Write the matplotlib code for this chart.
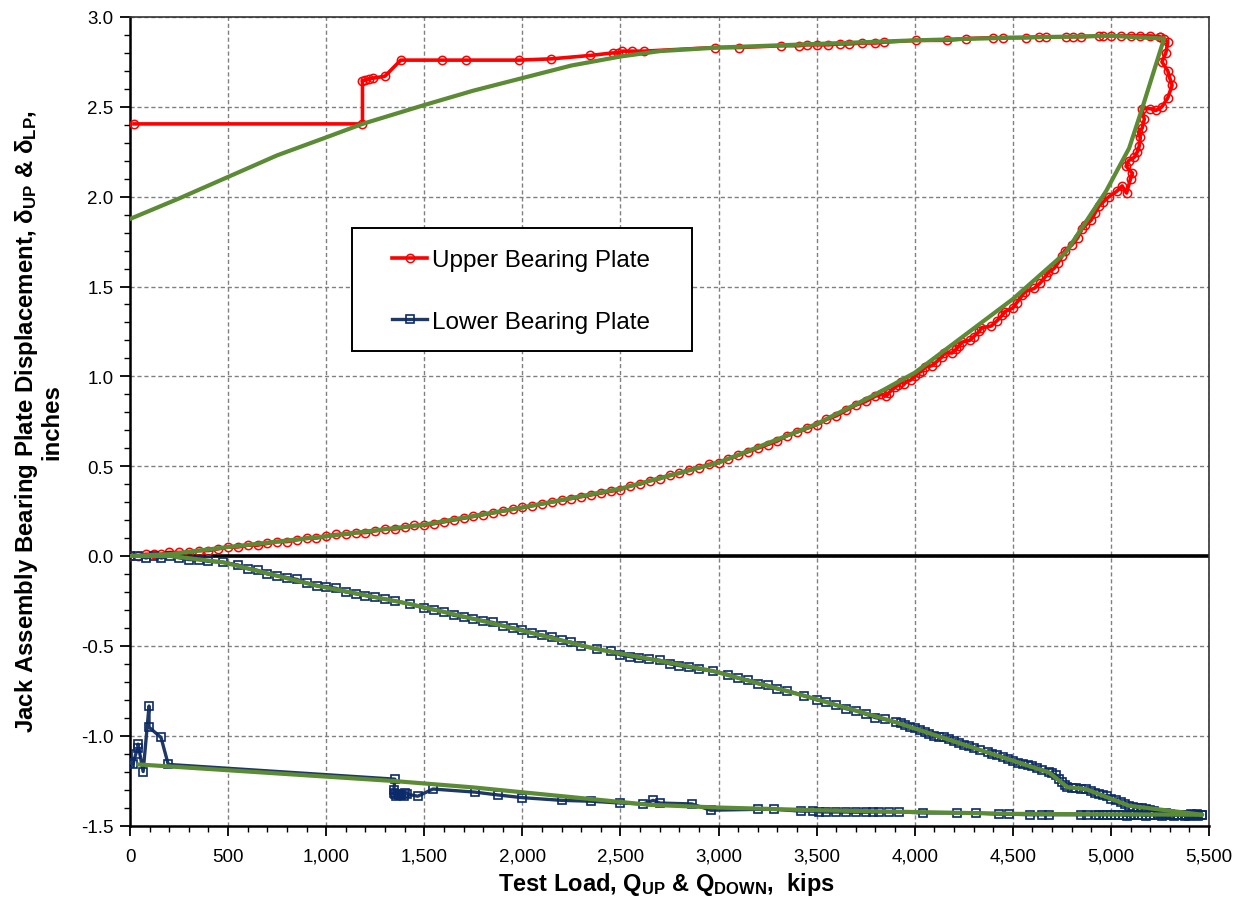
import matplotlib
matplotlib.use("Agg")
import matplotlib.pyplot as plt
from matplotlib.ticker import MultipleLocator, FuncFormatter
from matplotlib.patches import Rectangle

plt.rcParams['font.family'] = ['Liberation Sans', 'DejaVu Sans']
plt.rcParams['mathtext.fontset'] = 'custom'
plt.rcParams['mathtext.rm'] = 'Liberation Sans'
plt.rcParams['mathtext.bf'] = 'Liberation Sans:bold'
plt.rcParams['mathtext.it'] = 'Liberation Sans:italic'

# ---------------- data (kips, inches) ----------------
up_load_x = [0, 40, 80, 120, 160, 200, 250, 300, 350, 400, 450, 500, 550, 600, 650, 700, 750, 800,
             850, 900, 950, 1000, 1050, 1100, 1150, 1200, 1250, 1300, 1350, 1400, 1450, 1500, 1550,
             1600, 1650, 1700, 1750, 1800, 1850, 1900, 1950, 2000, 2050, 2100, 2150, 2200, 2250,
             2300, 2350, 2400, 2450, 2500, 2550, 2600, 2650, 2700, 2750, 2800, 2850, 2900, 2950,
             3000, 3050, 3100, 3150, 3200, 3250, 3300, 3350, 3400, 3450, 3500, 3550, 3600, 3650,
             3700, 3750, 3800, 3830, 3855, 3870, 3900, 3915, 3931, 3945, 3980, 4000, 4020, 4038,
             4050, 4090, 4110, 4141, 4150, 4190, 4210, 4226, 4240, 4280, 4300, 4329, 4340, 4390,
             4420, 4446, 4460, 4500, 4520, 4548, 4560, 4610, 4640, 4670, 4680, 4710, 4730, 4752,
             4765, 4800, 4830, 4853, 4870, 4900, 4920, 4940, 4960, 4990, 5030, 5057, 5080, 5100,
             5110, 5077, 5090, 5120, 5135, 5144, 5150, 5140, 5159, 5170, 5159, 5200, 5230, 5260,
             5290, 5312, 5300, 5290, 5260, 5280, 5290, 5270, 5250]
up_load_y = [0.00, 0.00, 0.01, 0.01, 0.01, 0.02, 0.02, 0.02, 0.03, 0.03, 0.04, 0.05, 0.05, 0.06,
             0.06, 0.07, 0.08, 0.08, 0.09, 0.10, 0.10, 0.11, 0.12, 0.12, 0.13, 0.13, 0.14, 0.15,
             0.15, 0.16, 0.17, 0.17, 0.18, 0.19, 0.20, 0.21, 0.22, 0.23, 0.24, 0.25, 0.26, 0.27,
             0.28, 0.29, 0.30, 0.31, 0.32, 0.33, 0.34, 0.35, 0.36, 0.37, 0.39, 0.40, 0.42, 0.43,
             0.45, 0.46, 0.48, 0.49, 0.51, 0.52, 0.54, 0.56, 0.58, 0.60, 0.62, 0.64, 0.67, 0.69,
             0.71, 0.73, 0.76, 0.78, 0.81, 0.84, 0.86, 0.89, 0.90, 0.89, 0.91, 0.94, 0.95, 0.97,
             0.96, 0.98, 1.00, 1.02, 1.03, 1.05, 1.06, 1.08, 1.11, 1.13, 1.13, 1.15, 1.17, 1.19,
             1.20, 1.22, 1.25, 1.27, 1.28, 1.31, 1.34, 1.36, 1.38, 1.41, 1.45, 1.47, 1.49, 1.52,
             1.56, 1.58, 1.60, 1.63, 1.67, 1.70, 1.73, 1.77, 1.82, 1.84, 1.87, 1.91, 1.95, 1.97,
             2.00, 2.03, 2.06, 2.02, 2.10, 2.13, 2.17, 2.20, 2.22, 2.25, 2.28, 2.33, 2.36, 2.38,
             2.43, 2.49, 2.49, 2.48, 2.50, 2.55, 2.62, 2.66, 2.70, 2.75, 2.80, 2.86, 2.88, 2.89]

up_unload_x = [5250, 5200, 5150, 5100, 5050, 5000, 4960, 4940, 4850, 4805, 4770, 4670, 4635, 4567,
               4448, 4397, 4262, 4167, 4006, 3845, 3800, 3730, 3667, 3620, 3560, 3500, 3450, 3410,
               3320, 3105, 2980, 2620, 2560, 2510, 2490, 2460, 2346, 2147, 1981, 1714, 1592, 1380,
               1299, 1240, 1220, 1200, 1185, 1185, 20]
up_unload_y = [2.89, 2.895, 2.895, 2.895, 2.895, 2.895, 2.895, 2.895, 2.89, 2.89, 2.89, 2.89, 2.89,
               2.885, 2.885, 2.885, 2.88, 2.87, 2.87, 2.86, 2.855, 2.855, 2.85, 2.85, 2.845, 2.845,
               2.845, 2.84, 2.84, 2.83, 2.83, 2.81, 2.81, 2.81, 2.80, 2.80, 2.786, 2.767, 2.76, 2.76,
               2.76, 2.76, 2.67, 2.66, 2.655, 2.65, 2.645, 2.405, 2.405]

lo_load_x = [0, 40, 80, 120, 160, 204, 250, 300, 350, 400, 475, 550, 600, 650, 700, 750, 800, 850,
             900, 951, 1000, 1050, 1100, 1150, 1200, 1250, 1300, 1350, 1426, 1500, 1550, 1600,
             1650, 1700, 1750, 1800, 1850, 1900, 1950, 2000, 2050, 2100, 2150, 2200, 2250, 2300,
             2378, 2450, 2500, 2550, 2597, 2648, 2700, 2750, 2800, 2850, 2900, 2970, 3050, 3100,
             3150, 3200, 3250, 3300, 3350, 3437, 3500, 3550, 3600, 3650, 3700, 3750, 3800, 3850,
             3906, 3930, 3950, 3975, 4000, 4025, 4050, 4075, 4100, 4125, 4150, 4175, 4200, 4225,
             4250, 4275, 4300, 4335, 4371, 4395, 4420, 4450, 4475, 4500, 4525, 4550, 4575, 4600,
             4625, 4650, 4685, 4700, 4720, 4735, 4750, 4765, 4778, 4800, 4820, 4845, 4872, 4900,
             4920, 4940, 4960, 4980, 5000, 5025, 5050, 5070, 5093, 5115, 5140, 5160, 5180, 5200,
             5220, 5240, 5255, 5280, 5300, 5320, 5340, 5360, 5380, 5400, 5420, 5440, 5465]
lo_load_y = [0.00, 0.00, -0.01, 0.00, -0.01, 0.00, -0.01, -0.02, -0.02, -0.03, -0.035, -0.05,
             -0.07, -0.08, -0.10, -0.11, -0.12, -0.13, -0.15, -0.165, -0.17, -0.18, -0.20, -0.21,
             -0.22, -0.23, -0.24, -0.25, -0.267, -0.29, -0.30, -0.31, -0.33, -0.34, -0.35, -0.36,
             -0.37, -0.388, -0.40, -0.41, -0.43, -0.44, -0.45, -0.47, -0.48, -0.50, -0.518, -0.53,
             -0.55, -0.56, -0.57, -0.575, -0.58, -0.60, -0.61, -0.62, -0.63, -0.64, -0.66, -0.68,
             -0.69, -0.71, -0.72, -0.74, -0.75, -0.778, -0.80, -0.81, -0.83, -0.85, -0.86, -0.88,
             -0.90, -0.91, -0.926, -0.93, -0.94, -0.95, -0.96, -0.97, -0.98, -0.99, -1.00, -1.005,
             -1.01, -1.02, -1.03, -1.04, -1.05, -1.06, -1.07, -1.08, -1.093, -1.10, -1.11, -1.12,
             -1.13, -1.14, -1.15, -1.16, -1.165, -1.17, -1.18, -1.19, -1.205, -1.21, -1.22, -1.24,
             -1.26, -1.275, -1.287, -1.29, -1.29, -1.295, -1.297, -1.31, -1.32, -1.325, -1.33,
             -1.335, -1.35, -1.36, -1.37, -1.38, -1.39, -1.395, -1.40, -1.405, -1.41, -1.415,
             -1.42, -1.43, -1.437, -1.43, -1.435, -1.44, -1.44, -1.44, -1.44, -1.445, -1.44,
             -1.435, -1.44]

lo_unload_x = [5465, 5445, 5430, 5410, 5400, 5380, 5360, 5340, 5320, 5300, 5280, 5260, 5240, 5220,
               5200, 5180, 5160, 5140, 5120, 5100, 5080, 5060, 5040, 5020, 5000, 4980, 4960, 4940,
               4925, 4880, 4845, 4685, 4650, 4590, 4480, 4430, 4310, 4215, 4040, 3920, 3870, 3820,
               3785, 3750, 3700, 3650, 3600, 3550, 3510, 3480, 3420, 3285, 3200, 2960, 2864, 2700,
               2667, 2616, 2500, 2350, 2200, 2000, 1875, 1757, 1544, 1467, 1410, 1400, 1395, 1380,
               1365, 1355, 1345, 1370, 1350, 1345, 1350, 195, 158, 97, 97, 67, 41, 41, 30, 15, 0]
lo_unload_y = [-1.44, -1.445, -1.44, -1.435, -1.44, -1.445, -1.44, -1.44, -1.445, -1.44, -1.44,
               -1.445, -1.44, -1.44, -1.44, -1.445, -1.44, -1.44, -1.44, -1.44, -1.445, -1.44,
               -1.44, -1.44, -1.44, -1.44, -1.44, -1.44, -1.44, -1.44, -1.44, -1.44, -1.44, -1.44,
               -1.437, -1.437, -1.43, -1.43, -1.43, -1.424, -1.424, -1.424, -1.425, -1.426, -1.426,
               -1.425, -1.425, -1.425, -1.424, -1.42, -1.42, -1.41, -1.41, -1.415, -1.38, -1.375,
               -1.36, -1.38, -1.375, -1.365, -1.36, -1.345, -1.33, -1.314, -1.297, -1.337, -1.325,
               -1.32, -1.335, -1.33, -1.325, -1.335, -1.32, -1.33, -1.325, -1.30, -1.242, -1.16,
               -1.01, -0.953, -0.835, -1.20, -1.047, -1.07, -1.10, -1.16, -1.15]

fit_up_load_x = [0, 200, 500, 1000, 1500, 2000, 2500, 3000, 3500, 3800, 4000, 4500, 4770, 4975,
                 5093, 5159, 5271]
fit_up_load_y = [0.0, 0.01, 0.05, 0.11, 0.175, 0.27, 0.375, 0.52, 0.735, 0.90, 1.02, 1.43, 1.69,
                 2.03, 2.27, 2.49, 2.88]
fit_up_unload_x = [5271, 5000, 4500, 4000, 3500, 3000, 2700, 2500, 2250, 2000, 1750, 1500, 1185,
                   1000, 750, 500, 250, 0]
fit_up_unload_y = [2.88, 2.895, 2.885, 2.87, 2.85, 2.83, 2.81, 2.78, 2.73, 2.66, 2.59, 2.51, 2.405,
                   2.33, 2.23, 2.11, 1.99, 1.876]
fit_lo_load_x = [0, 204, 475, 951, 1426, 1900, 2378, 2648, 2970, 3437, 3906, 4371, 4685, 4778,
                 4872, 5093, 5465]
fit_lo_load_y = [0.0, 0.0, -0.035, -0.165, -0.267, -0.388, -0.518, -0.573, -0.64, -0.778, -0.926,
                 -1.093, -1.205, -1.287, -1.297, -1.39, -1.44]
fit_lo_unload_x = [5465, 4500, 4000, 3500, 3000, 2648, 1750, 1340, 41]
fit_lo_unload_y = [-1.44, -1.435, -1.425, -1.415, -1.40, -1.385, -1.288, -1.252, -1.16]

x_ticks = [0, 500, 1000, 1500, 2000, 2500, 3000, 3500, 4000, 4500, 5000, 5500]
y_ticks = [-1.5, -1.0, -0.5, 0.0, 0.5, 1.0, 1.5, 2.0, 2.5, 3.0]

RED = '#FF0000'
NAVY = '#1F3864'
NAVY_M = '#0B2A6A'
GREEN = '#5B8B35'

W, H = 1249, 903
fig = plt.figure(figsize=(W / 100, H / 100), dpi=100)
ax = fig.add_axes([130 / W, 1 - 826.5 / H, 1079 / W, 808.5 / H])

ax.axhline(0, color='black', lw=2.6, zorder=2)

up_x = up_load_x + up_unload_x
up_y = up_load_y + up_unload_y
lo_x = lo_load_x + lo_unload_x
lo_y = lo_load_y + lo_unload_y

ax.plot(up_x, up_y, color=RED, lw=2.6, marker='o', ms=6, mfc='none', mec=RED, mew=1.1,
        label='Upper Bearing Plate', zorder=3)
ax.plot(lo_x, lo_y, color=NAVY, lw=2.4, marker='s', ms=5.5, mfc='none', mec=NAVY_M, mew=1.2,
        label='Lower Bearing Plate', zorder=3)

for fx, fy in [(fit_up_load_x, fit_up_load_y), (fit_up_unload_x, fit_up_unload_y),
               (fit_lo_load_x, fit_lo_load_y), (fit_lo_unload_x, fit_lo_unload_y)]:
    ax.plot(fx, fy, color=GREEN, lw=3.0, zorder=4, solid_capstyle='round',
            solid_joinstyle='round')

ax.set_xlim(0, 5500)
ax.set_ylim(-1.5, 3.0)
ax.set_xticks(x_ticks)
ax.set_yticks(y_ticks)
ax.xaxis.set_minor_locator(MultipleLocator(100))
ax.yaxis.set_minor_locator(MultipleLocator(0.1))
ax.xaxis.set_major_formatter(FuncFormatter(lambda v, p: f"{int(v):,}"))
ax.yaxis.set_major_formatter(FuncFormatter(lambda v, p: f"{v:.1f}"))
ax.tick_params(axis='both', which='major', direction='out', length=7, width=1.3,
               labelsize=13.5, top=False, right=False)
ax.tick_params(axis='x', which='major', pad=9)
ax.tick_params(axis='y', which='major', pad=5)
ax.tick_params(axis='both', which='minor', direction='out', length=4, width=1.0,
               top=False, right=False)
ax.grid(True, which='major', color='#808080', ls=(0, (3, 2)), lw=1.0, zorder=1)
ax.set_axisbelow(True)
for s in ['left', 'bottom']:
    ax.spines[s].set_linewidth(1.8)
for s in ['top', 'right']:
    ax.spines[s].set_linewidth(1.2)
    ax.spines[s].set_color('#333333')

# legend box (frame drawn separately to match the reference's padding)
fig.patches.append(Rectangle((352 / W, 1 - 352 / H), 340 / W, 123 / H, transform=fig.transFigure,
                             facecolor='white', edgecolor='black', lw=1.4, zorder=5))
leg = fig.legend(*ax.get_legend_handles_labels(), loc='upper left',
                 bbox_to_anchor=(392 / W, 1 - 250 / H), fontsize=17.5, frameon=False,
                 labelspacing=1.63, handlelength=1.45, handletextpad=0.2, borderpad=0,
                 borderaxespad=0, numpoints=1)
leg.set_zorder(6)

fig.text(666 / W, 1 - 885 / H,
         r'Test Load, Q$_{\mathbf{UP}}$ & Q$_{\mathbf{DOWN}}$,  kips',
         ha='center', va='center', fontsize=17, fontweight='bold')
fig.text(38 / W, 1 - 422 / H,
         'Jack Assembly Bearing Plate Displacement, δ$_{\\mathbf{UP}}$ & δ$_{\\mathbf{LP}}$,\ninches',
         ha='center', va='center', rotation=90, fontsize=17.3, fontweight='bold', linespacing=1.0)

fig.savefig('out.png', dpi=100)
